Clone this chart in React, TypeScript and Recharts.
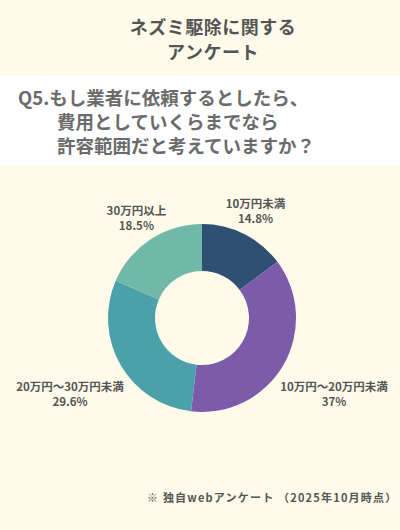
import React from "react";
import { PieChart, Pie, Cell } from "recharts";

const categories = ["10万円未満", "10万円～20万円未満", "20万円～30万円未満", "30万円以上"];
const values = [14.8, 37, 29.6, 18.5];
const valueLabels = ["14.8%", "37%", "29.6%", "18.5%"];
const colors = ["#2D5073", "#7B5BAA", "#4CA0A9", "#70B8A8"];

const titleLines = ["ネズミ駆除に関する", "アンケート"];
const questionLines = ["Q5.もし業者に依頼するとしたら、", "費用としていくらまでなら", "許容範囲だと考えていますか？"];
const footnote = "※ 独自webアンケート （2025年10月時点）";

const data = categories.map((name, i) => ({ name, value: values[i], label: valueLabels[i] }));

const FONT = "'Noto Sans CJK JP', 'Noto Sans', sans-serif";
const RAD = Math.PI / 180;

const renderLabel = (props: any) => {
  const { cx, cy, midAngle, outerRadius, index } = props;
  const s = Math.sin(-midAngle * RAD);
  const c = Math.cos(-midAngle * RAD);
  const r = outerRadius * 1.27 + Math.max(0, s) * 66;
  const x = cx + r * c;
  const y = cy + r * s;
  return (
    <text
      x={x}
      y={y}
      textAnchor="middle"
      fill="#555555"
      fontFamily={FONT}
      fontWeight={700}
      fontSize={11.5}
    >
      <tspan x={x} dy={-3}>{data[index].name}</tspan>
      <tspan x={x} dy={15}>{data[index].label}</tspan>
    </text>
  );
};

export default function App() {
  return (
    <div
      style={{
        position: "absolute",
        left: 0,
        top: 0,
        width: 400,
        height: 530,
        background: "#FEFBEB",
        fontFamily: FONT,
        overflow: "hidden",
      }}
    >
      <div
        style={{
          position: "absolute",
          left: 0,
          top: 14,
          width: 426,
          textAlign: "center",
          fontSize: 18,
          fontWeight: 700,
          color: "#555555",
          lineHeight: "25px",
          letterSpacing: 0.5,
        }}
      >
        {titleLines.map((t) => (
          <div key={t}>{t}</div>
        ))}
      </div>
      <div
        style={{
          position: "absolute",
          left: 0,
          top: 76,
          width: 400,
          height: 90,
          background: "#FFFFFF",
        }}
      />
      <div
        style={{
          position: "absolute",
          left: 18,
          top: 85,
          fontSize: 18.5,
          fontWeight: 700,
          color: "#6B6B6B",
          lineHeight: "24px",
        }}
      >
        {questionLines.map((t, i) => (
          <div key={t} style={{ paddingLeft: i === 0 ? 0 : 39, whiteSpace: "nowrap" }}>
            {t}
          </div>
        ))}
      </div>
      <div style={{ position: "absolute", left: 0, top: 0 }}>
        <PieChart width={400} height={530} margin={{ top: 0, right: 0, bottom: 0, left: 0 }}>
          <Pie
            data={data}
            dataKey="value"
            nameKey="name"
            cx={202}
            cy={318}
            innerRadius={47}
            outerRadius={94}
            startAngle={90}
            endAngle={-270}
            stroke="none"
            label={renderLabel}
            labelLine={false}
            isAnimationActive={false}
          >
            {data.map((d, i) => (
              <Cell key={d.name} fill={colors[i]} />
            ))}
          </Pie>
        </PieChart>
      </div>
      <div
        style={{
          position: "absolute",
          left: 147,
          top: 489,
          fontSize: 11,
          fontWeight: 700,
          color: "#555555",
          letterSpacing: 1.2,
          whiteSpace: "nowrap",
        }}
      >
        {footnote}
      </div>
    </div>
  );
}
